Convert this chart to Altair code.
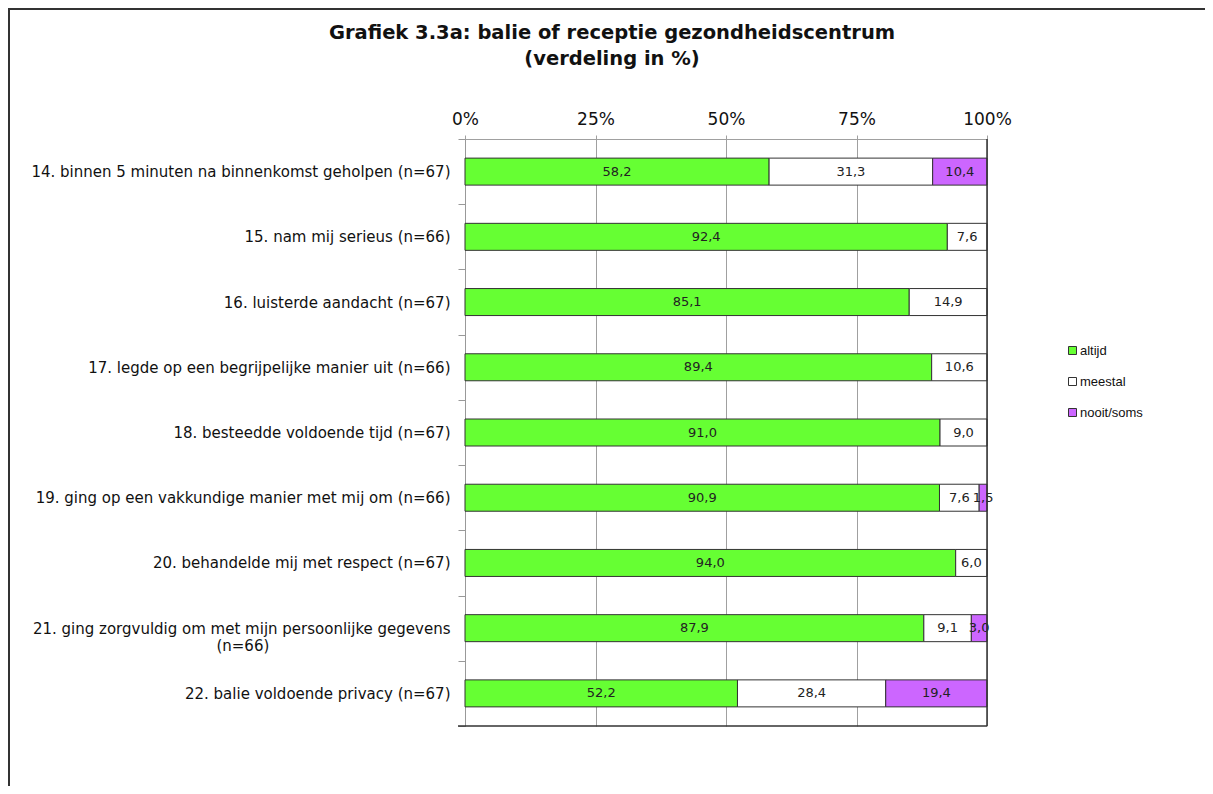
import altair as alt
import pandas as pd

NBSP = "\u00a0"
categories = [
    "14. binnen 5 minuten na binnenkomst geholpen (n=67)",
    "15. nam mij serieus (n=66)",
    "16. luisterde aandacht (n=67)",
    "17. legde op een begrijpelijke manier uit (n=66)",
    "18. besteedde voldoende tijd (n=67)",
    "19. ging op een vakkundige manier met mij om (n=66)",
    "20. behandelde mij met respect (n=67)",
    "21. ging zorgvuldig om met mijn persoonlijke gegevens\n(n=66)" + NBSP * 38 + "\u200b",
    "22. balie voldoende privacy (n=67)",
]
series = ["altijd", "meestal", "nooit/soms"]
altijd = [58.2, 92.4, 85.1, 89.4, 91.0, 90.9, 94.0, 87.9, 52.2]
meestal = [31.3, 7.6, 14.9, 10.6, 9.0, 7.6, 6.0, 9.1, 28.4]
nooit_soms = [10.4, 0.0, 0.0, 0.0, 0.0, 1.5, 0.0, 3.0, 19.4]
colors = ["#66FF33", "#FFFFFF", "#CC66FF"]
title_lines = ["Grafiek 3.3a: balie of receptie gezondheidscentrum", "(verdeling in %)"]
x_ticks = [0, 0.25, 0.5, 0.75, 1.0]

rows = []
for i, c in enumerate(categories):
    for k, (s, vals) in enumerate(zip(series, [altijd, meestal, nooit_soms])):
        if vals[i] > 0:
            rows.append({"cat": c, "series": s, "order": k, "value": vals[i]})
df = pd.DataFrame(rows)

W, H = 522, 587
PL, PT, PR, PB = 457, 131, 218, 60
FONT = "DejaVu Sans"

xaxis = alt.Axis(orient="top", values=x_ticks, format="%", grid=True, gridColor="#a0a0a0",
                 domain=True, domainColor="#a0a0a0", ticks=True, tickColor="#a0a0a0", tickSize=4,
                 labelFont=FONT, labelFontSize=17, labelFlush=False,
                 labelColor="#111", labelPadding=7, title=None)
xscale = alt.Scale(domain=[0, 1], nice=False)
yaxis = alt.Axis(title=None, tickBand="extent", domainColor="#999", tickColor="#999", tickSize=7,
                 labelFont=FONT, labelFontSize=15, labelColor="#111", labelPadding=8,
                 labelLimit=1000, labelLineHeight=17, grid=False,
                 labelExpr="split(datum.label, '\\n')")
yenc = alt.Y("cat:N", sort=categories, scale=alt.Scale(paddingInner=0, paddingOuter=0), axis=yaxis)

base = alt.Chart(df).transform_stack(
    stack="value", groupby=["cat"], as_=["x0", "x1"], offset="normalize",
    sort=[alt.SortField("order", order="ascending")]
).transform_calculate(
    mid="(datum.x0 + datum.x1) / 2",
    lab="replace(format(datum.value, '.1f'), '.', ',')"
)

bars = base.mark_bar(stroke="#333", strokeWidth=1, size=27).encode(
    x=alt.X("x0:Q", scale=xscale, axis=xaxis),
    x2="x1:Q",
    y=yenc,
    color=alt.Color("series:N", scale=alt.Scale(domain=series, range=colors),
                    legend=alt.Legend(orient="none", legendX=601, legendY=205, title=None,
                                      symbolType="square", symbolSize=64,
                                      symbolStrokeColor="#333", symbolStrokeWidth=1,
                                      labelFont="Liberation Sans", labelFontSize=13,
                                      labelColor="#111", rowPadding=17, padding=0,
                                      labelOffset=1)),
)

labels = base.mark_text(font=FONT, fontSize=13, color="#222", baseline="middle").encode(
    x=alt.X("mid:Q", scale=xscale, axis=xaxis),
    y=yenc,
    text="lab:N",
)

right_border = alt.Chart(pd.DataFrame({"x": [1.0]})).mark_rule(color="#333", strokeWidth=1.5).encode(
    x=alt.X("x:Q", scale=xscale, axis=xaxis)
)
one = pd.DataFrame({"d": [0]})
bottom_border = alt.Chart(one).mark_rule(color="#333", strokeWidth=1.5).encode(
    x=alt.value(-7), x2=alt.value(W), y=alt.value(H)
)
frame_left = alt.Chart(one).mark_rule(color="#333", strokeWidth=2).encode(
    x=alt.value(-PL + 1), y=alt.value(-PT), y2=alt.value(H + PB)
)
frame_top = alt.Chart(one).mark_rule(color="#333", strokeWidth=2).encode(
    x=alt.value(-PL), x2=alt.value(W + PR), y=alt.value(-PT + 1)
)
title = alt.Chart(pd.DataFrame({"t": ["\n".join(title_lines)]})).mark_text(
    lineBreak="\n", lineHeight=26, align="center", baseline="top",
    font=FONT, fontSize=19.5, fontWeight="bold", color="#111"
).encode(text="t:N", x=alt.value(147), y=alt.value(-115))

chart = alt.layer(bars, labels, right_border, bottom_border, frame_left, frame_top, title).properties(
    width=W, height=H,
    autosize=alt.AutoSizeParams(type="none"),
    padding={"left": PL, "top": PT, "right": PR, "bottom": PB},
    background="white",
).configure_view(stroke=None)

chart.save("out.html", embed_options={"renderer": "svg", "actions": False})
